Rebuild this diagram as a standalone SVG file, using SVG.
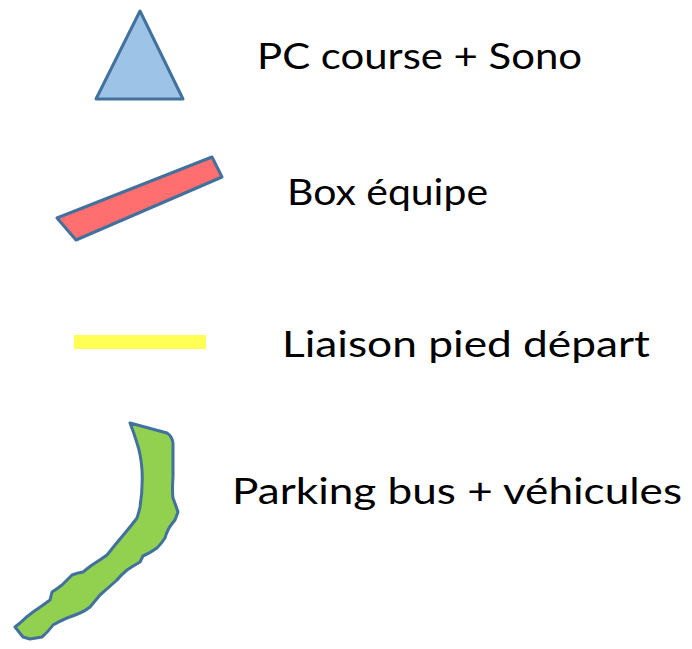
<svg xmlns="http://www.w3.org/2000/svg" width="692" height="649" viewBox="0 0 692 649">
<style>
.sym{stroke:#41719C;stroke-width:3;stroke-linejoin:round}
.lbl{font-family:Lato,"Open Sans","Liberation Sans",sans-serif;font-size:36px;fill:#000}
</style>
<rect width="692" height="649" fill="#fff"/>
<g id="pc-course">
<polygon class="sym" points="140,11 96,99 183,99" fill="#9DC3E6"/>
<text class="lbl" x="257" y="69" textLength="325" lengthAdjust="spacingAndGlyphs">PC course + Sono</text>
</g>
<g id="box-equipe">
<polygon class="sym" points="57,218 212,157 222,177 76,240" fill="#FF6F6F"/>
<text class="lbl" x="287" y="205" textLength="201" lengthAdjust="spacingAndGlyphs">Box équipe</text>
</g>
<g id="liaison">
<rect x="74" y="335" width="132" height="14" fill="#FFFF55"/>
<text class="lbl" x="282" y="357" textLength="368" lengthAdjust="spacingAndGlyphs">Liaison pied départ</text>
</g>
<g id="parking">
<path class="sym" fill="#92D050" d="M130,423 L167,433 Q172,436 173,443 L173,477 Q172,490 173,498 Q176,506 178,512 L175,520 Q170,526 168,530 Q166,534 165,538 Q161,544 157,548 Q150,553 143,556 Q141,560 140,562 Q133,566 127,570 Q121,575 117,580 Q108,588 100,595 Q95,601 90,607 Q85,611 80,613 Q73,616 67,618 Q60,621 53,625 Q48,632 42,637 Q36,638 30,639 L23,637 Q19,632 15,627 L20,623 Q26,617 33,612 Q42,606 50,600 L52,592 Q57,589 62,585 Q67,580 72,575 Q77,573 83,572 Q88,568 92,565 Q100,560 107,555 Q111,550 115,545 Q120,539 125,533 Q131,526 137,518 Q139,512 140,507 Q143,488 142,470 Q141,455 137,443 Q134,433 130,423 Z"/>
<text class="lbl" x="232" y="504" textLength="450" lengthAdjust="spacingAndGlyphs">Parking bus + véhicules</text>
</g>
<g id="connectors"/>
</svg>
